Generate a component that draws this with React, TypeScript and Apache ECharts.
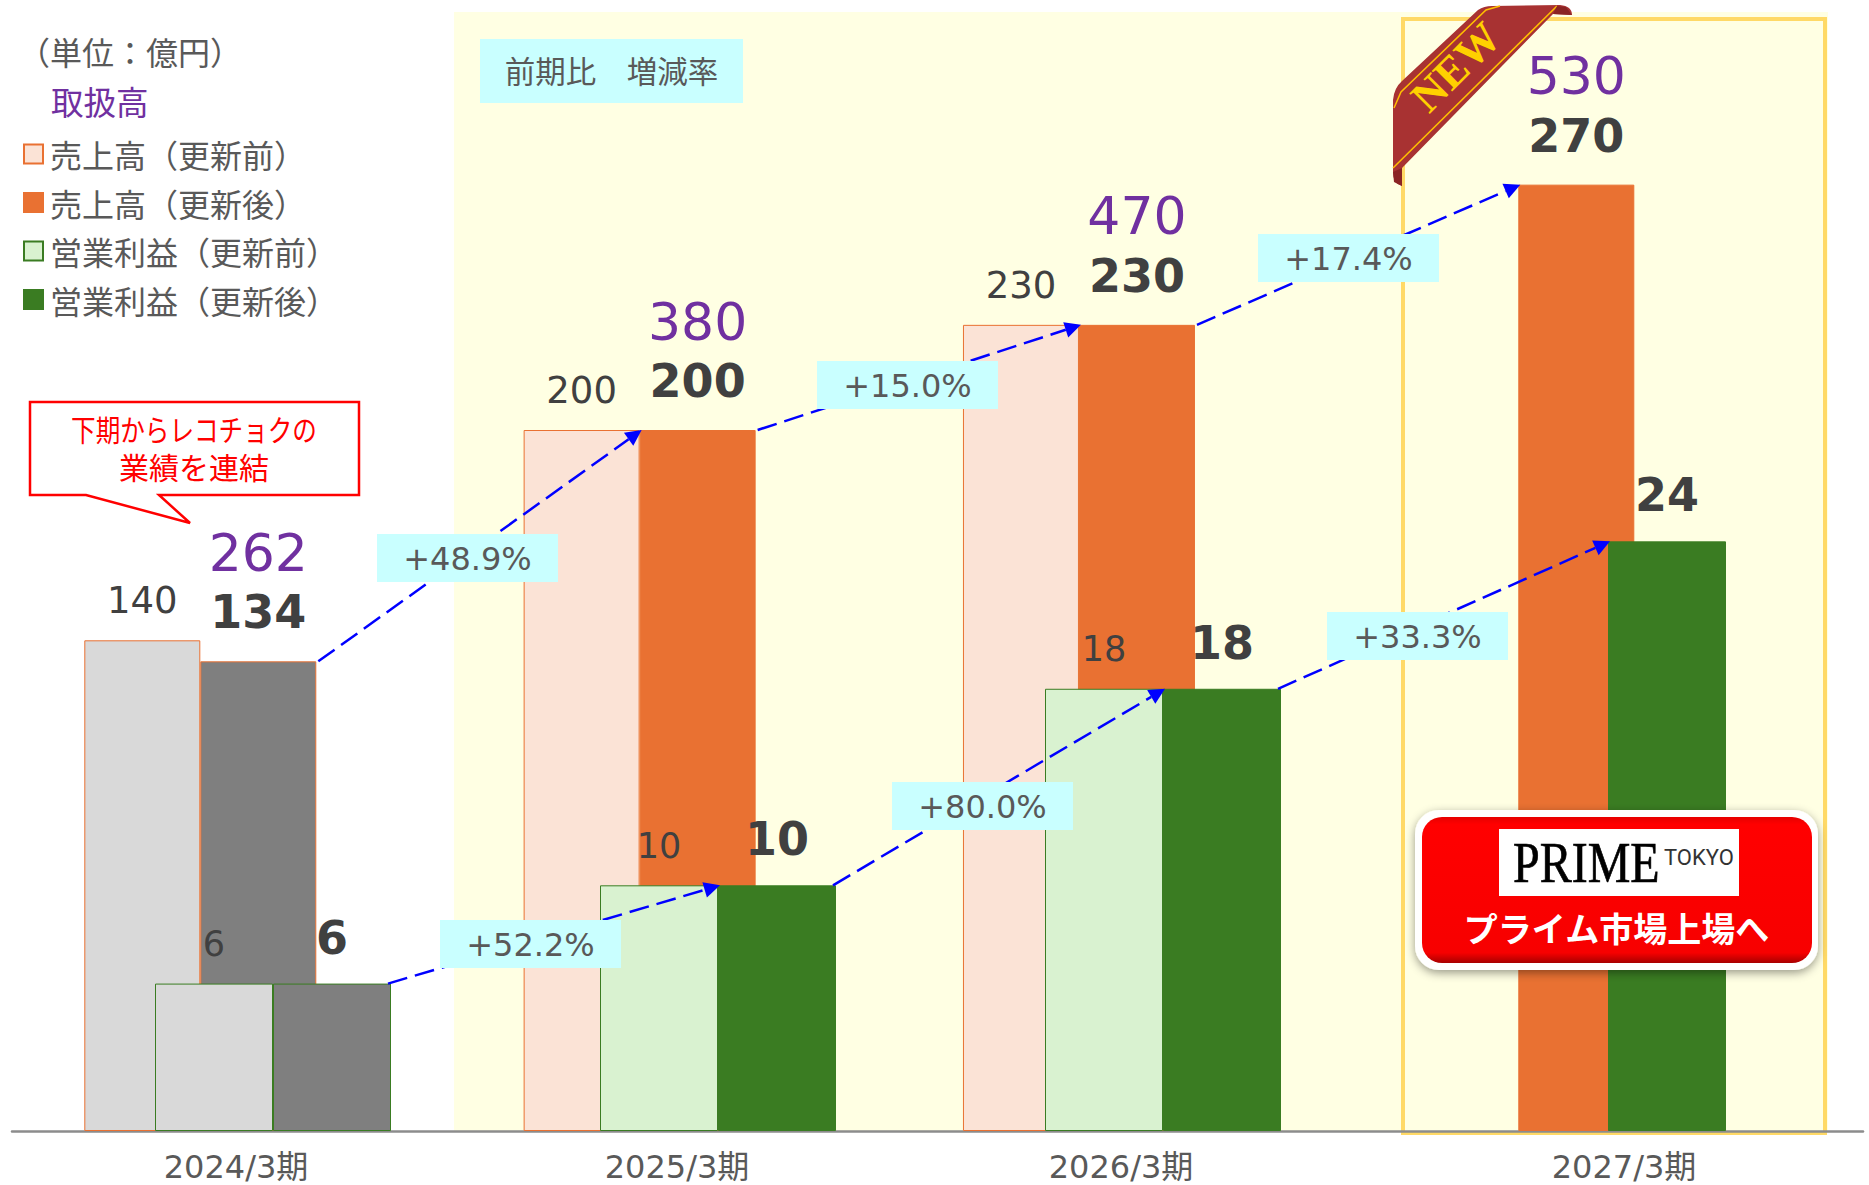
import React, { useEffect, useRef } from "react";
import * as echarts from "echarts";

const categories = ["2024/3期", "2025/3期", "2026/3期", "2027/3期"];
const salesBefore = [140, 200, 230, null];
const salesAfter = [134, 200, 230, 270];
const opBefore = [6, 10, 18, null];
const opAfter = [6, 10, 18, 24];
const gmv = [262, 380, 470, 530];
const salesGrowth = ["+48.9%", "+15.0%", "+17.4%"];
const opGrowth = ["+52.2%", "+80.0%", "+33.3%"];
const legendNames = ["売上高（更新前）", "売上高（更新後）", "営業利益（更新前）", "営業利益（更新後）"];

// layout constants (pixels of the 1869x1185 page)
const SALES_BAR = 116;
const OP_BAR = 118;
const salesBoxes = [[377, 534], [817, 361], [1258, 234]];
const opBoxes = [[440, 920], [892, 782], [1327, 612]];
const labelCentres = [236, 677, 1121, 1624];
const JP = "'Noto Sans CJK JP', 'DejaVu Sans', sans-serif";
const LAT = "'DejaVu Sans', 'Noto Sans CJK JP', sans-serif";
const GREY_TEXT = "#595959";
const DARK_TEXT = "#404040";

const RIBBON =
  "M1393,100 Q1394,88 1402,81 L1478,10 Q1484,6 1492,6 L1560,5 Q1572,6 1572,15 L1553,14 L1402,168 L1402,186 Q1393,184 1393,172 Z";
echarts.graphic.registerShape("ribbon", echarts.graphic.extendPath(RIBBON, {}) as any);

function txt(
  text: string, x: number, y: number, size: number, fill: string,
  extra: { align?: string; weight?: string; family?: string; z?: number; scaleX?: number; scaleY?: number; rotation?: number; stroke?: string } = {}
) {
  const align = extra.align ?? "left";
  return {
    type: "text", x, y, z: extra.z ?? 100,
    scaleX: extra.scaleX ?? 1, scaleY: extra.scaleY ?? 1, rotation: extra.rotation ?? 0, silent: true,
    style: {
      text, fill,
      ...(extra.stroke ? { stroke: extra.stroke, lineWidth: 0.6 } : {}),
      font: `${extra.weight ?? "normal"} ${size}px ${extra.family ?? JP}`,
      align, verticalAlign: "middle", textAlign: align, textVerticalAlign: "middle",
    },
  };
}

function pctBox(label: string, pos: number[]) {
  const [x, y] = pos;
  return [
    { type: "rect", z: 99, silent: true, shape: { x, y, width: 181, height: 48 }, style: { fill: "#C9FFFF" } },
    txt(label, x + 90.5, y + 25, 32, GREY_TEXT, { align: "center", family: LAT }),
  ];
}

function arrowItem(barW: number, startGap: number, endGap: number) {
  return (_: any, api: any) => {
    const i = api.value(0);
    const a = api.coord([i, api.value(1)]);
    const b = api.coord([i + 1, api.value(2)]);
    const x1 = a[0] + barW + startGap, y1 = a[1];
    const x2 = b[0] + endGap, y2 = b[1];
    const len = Math.hypot(x2 - x1, y2 - y1);
    const ux = (x2 - x1) / len, uy = (y2 - y1) / len;
    const bx = x2 - ux * 16, by = y2 - uy * 16;
    return {
      type: "group",
      children: [
        { type: "line", shape: { x1, y1, x2: bx, y2: by }, style: { stroke: "#0000FF", lineWidth: 2.5, lineDash: [20, 8], fill: "none" } },
        { type: "polygon", shape: { points: [[x2, y2], [bx - uy * 8, by + ux * 8], [bx + uy * 8, by - ux * 8]] }, style: { fill: "#0000FF" } },
      ],
    };
  };
}

const GREY_LIGHT = "#D9D9D9";
const GREY_DARK = "#7F7F7F";
const ORANGE = "#E97132";
const GREEN = "#3A7C22";

function barData(values: (number | null)[], greyFill: string, border: string) {
  return values.map((v, i) =>
    i === 0 ? { value: v, itemStyle: { color: greyFill, borderColor: border, borderWidth: 1 } } : { value: v }
  );
}

const thinLabel = (distance: number, size: number) => ({
  show: true, position: "top", distance, fontSize: size, color: DARK_TEXT, fontFamily: LAT,
});
const boldLabel = (distance: number, size: number) => ({
  show: true, position: "top", distance, fontSize: size, fontWeight: "bold", color: DARK_TEXT, fontFamily: LAT,
});

function makeOption(): any {
  const graphics: any[] = [
    { type: "rect", z: -2, silent: true, shape: { x: 454, y: 12, width: 1374, height: 1119 }, style: { fill: "#FFFFE3" } },
    { type: "rect", z: -1, silent: true, shape: { x: 1403, y: 19, width: 422, height: 1114 }, style: { fill: "none", stroke: "#FFD966", lineWidth: 4 } },
    txt("（単位：億円）", 18, 51, 32, GREY_TEXT),
    txt("取扱高", 51, 100, 32.5, "#7030A0"),
    { type: "rect", z: 99, silent: true, shape: { x: 480, y: 39, width: 263, height: 64 }, style: { fill: "#C9FFFF" } },
    txt("前期比　増減率", 611.5, 70, 30.5, GREY_TEXT, { align: "center" }),
    ...salesGrowth.flatMap((l, i) => pctBox(l, salesBoxes[i])),
    ...opGrowth.flatMap((l, i) => pctBox(l, opBoxes[i])),
    // callout
    {
      type: "polygon", z: 98, silent: true,
      shape: { points: [[30, 402], [359, 402], [359, 495], [159, 495], [190, 523], [86, 495], [30, 495]] },
      style: { fill: "#FFFFFF", stroke: "#FF0000", lineWidth: 2.5 },
    },
    txt("下期からレコチョクの", 194, 428, 30, "#FF0000", { align: "center", scaleX: 0.82 }),
    txt("業績を連結", 194, 466, 30, "#FF0000", { align: "center" }),
    // ribbon
    { type: "ribbon", z: 110, silent: true, style: { fill: "#A83232" } },
    { type: "polyline", z: 111, silent: true, shape: { points: [[1394, 108], [1401, 92], [1486, 10], [1500, 6]] }, style: { stroke: "#FFC000", lineWidth: 1.5, fill: "none" } },
    { type: "polyline", z: 111, silent: true, shape: { points: [[1393, 168], [1557, 6]] }, style: { stroke: "#FFC000", lineWidth: 1.5, fill: "none" } },
    { type: "polygon", z: 111, silent: true, shape: { points: [[1393, 172], [1402, 168], [1402, 186], [1394, 182]] }, style: { fill: "#8A2424" } },
    { type: "polygon", z: 111, silent: true, shape: { points: [[1553, 14], [1572, 15], [1566, 7], [1557, 6]] }, style: { fill: "#8A2424" } },
    txt("NEW", 1456, 67, 44, "#FFD000", { align: "center", weight: "bold", family: "'Liberation Serif', serif", z: 112, rotation: Math.PI / 4 }),
    // listing badge
    {
      type: "rect", z: 120, silent: true, shape: { x: 1415, y: 810, width: 403, height: 160, r: 24 },
      style: { fill: "#FFFFFF", shadowBlur: 10, shadowColor: "rgba(0,0,0,0.4)", shadowOffsetY: 3 },
    },
    {
      type: "rect", z: 121, silent: true, shape: { x: 1422, y: 817, width: 390, height: 146, r: 20 },
      style: {
        fill: {
          type: "linear", x: 0, y: 0, x2: 0, y2: 1,
          colorStops: [
            { offset: 0, color: "#E60000" }, { offset: 0.05, color: "#FF0000" },
            { offset: 0.93, color: "#F70000" }, { offset: 1, color: "#A80000" },
          ],
        },
      },
    },
    { type: "rect", z: 122, silent: true, shape: { x: 1499, y: 829, width: 240, height: 67 }, style: { fill: "#FFFFFF" } },
    txt("PRIME", 1513, 863, 48, "#000000", { family: "'Liberation Serif', serif", z: 123, scaleY: 1.18, stroke: "#000000" }),
    txt("TOKYO", 1664, 857, 22, "#333333", { family: "'Roboto', sans-serif", z: 123 }),
    txt("プライム市場上場へ", 1616.5, 927, 34, "#FFFFFF", { align: "center", weight: "bold", z: 123 }),
  ];

  return {
    animation: false,
    backgroundColor: "#FFFFFF",
    grid: [
      { left: 200.3, width: 1318, top: 79.5, height: 1051.5 },
      { left: 273, width: 1335, top: 79.5, height: 1051.5 },
      { left: 12, width: 1851, top: 79.5, height: 1051.5 },
    ],
    xAxis: [
      { gridIndex: 0, type: "category", boundaryGap: false, data: categories, show: false },
      { gridIndex: 1, type: "category", boundaryGap: false, data: categories, show: false },
      {
        gridIndex: 2, type: "value", min: 12, max: 1863, z: 1, splitLine: { show: false },
        axisLine: { show: true, onZero: false, lineStyle: { color: "#8C8C8C", width: 2.5 } },
        axisTick: { show: false },
        axisLabel: {
          customValues: labelCentres, fontSize: 32, color: GREY_TEXT, margin: 20, fontFamily: LAT,
          showMinLabel: true, showMaxLabel: true, hideOverlap: false,
          formatter: (v: number) => categories[labelCentres.indexOf(v)] ?? "",
        },
      },
    ],
    yAxis: [
      { gridIndex: 0, type: "value", min: 0, max: 300, show: false },
      { gridIndex: 1, type: "value", min: 0, max: 42.8, show: false },
      { gridIndex: 2, type: "value", min: 0, max: 1, show: false },
    ],
    legend: {
      data: legendNames, orient: "vertical", left: 18, top: 133, itemWidth: 19, itemHeight: 19, itemGap: 16.5,
      icon: "rect", selectedMode: false,
      textStyle: { fontSize: 32, color: GREY_TEXT, fontFamily: JP, padding: [0, 0, 0, 2] },
    },
    series: [
      {
        name: legendNames[0], type: "bar", xAxisIndex: 0, yAxisIndex: 0, barWidth: SALES_BAR, barGap: "0%", clip: false,
        itemStyle: { color: "#FBE3D6", borderColor: ORANGE, borderWidth: 1 },
        label: thinLabel(21, 37),
        data: barData(salesBefore, GREY_LIGHT, ORANGE),
      },
      {
        name: legendNames[1], type: "bar", xAxisIndex: 0, yAxisIndex: 0, barWidth: SALES_BAR, barGap: "0%", clip: false,
        itemStyle: { color: ORANGE, borderColor: ORANGE, borderWidth: 1 },
        label: {
          show: true, position: "top", distance: 21, fontFamily: LAT,
          formatter: (p: any) => `{gmv|${gmv[p.dataIndex]}}\n{val|${salesAfter[p.dataIndex]}}`,
          rich: {
            gmv: { fontSize: 52, color: "#7030A0", lineHeight: 63, fontFamily: LAT },
            val: { fontSize: 46, color: DARK_TEXT, fontWeight: "bold", lineHeight: 56, fontFamily: LAT },
          },
        },
        data: barData(salesAfter, GREY_DARK, ORANGE),
      },
      {
        name: legendNames[2], type: "bar", xAxisIndex: 1, yAxisIndex: 1, barWidth: OP_BAR, barGap: "0%", clip: false,
        itemStyle: { color: "#D9F2D0", borderColor: GREEN, borderWidth: 1 },
        label: thinLabel(22, 35),
        data: barData(opBefore, GREY_LIGHT, GREEN),
      },
      {
        name: legendNames[3], type: "bar", xAxisIndex: 1, yAxisIndex: 1, barWidth: OP_BAR, barGap: "0%", clip: false,
        itemStyle: { color: GREEN, borderColor: GREEN, borderWidth: 1 },
        label: boldLabel(23, 46),
        data: barData(opAfter, GREY_DARK, GREEN),
      },
      {
        type: "custom", xAxisIndex: 0, yAxisIndex: 0, z: 5, silent: true, clip: false, encode: { x: 0, y: 1 },
        renderItem: arrowItem(SALES_BAR, 2, 2),
        data: salesAfter.slice(0, -1).map((v, i) => [i, v, salesAfter[i + 1]]),
      },
      {
        type: "custom", xAxisIndex: 1, yAxisIndex: 1, z: 5, silent: true, clip: false, encode: { x: 0, y: 1 },
        renderItem: arrowItem(OP_BAR, -3, 2),
        data: opAfter.slice(0, -1).map((v, i) => [i, v, opAfter[i + 1]]),
      },
    ],
    graphic: { elements: graphics },
  };
}

export default function App() {
  const ref = useRef<HTMLDivElement>(null);
  useEffect(() => {
    const chart = echarts.init(ref.current!, undefined, { renderer: "svg" });
    chart.setOption(makeOption());
    return () => chart.dispose();
  }, []);
  return <div ref={ref} style={{ position: "fixed", left: 0, top: 0, width: 1869, height: 1185 }} />;
}
